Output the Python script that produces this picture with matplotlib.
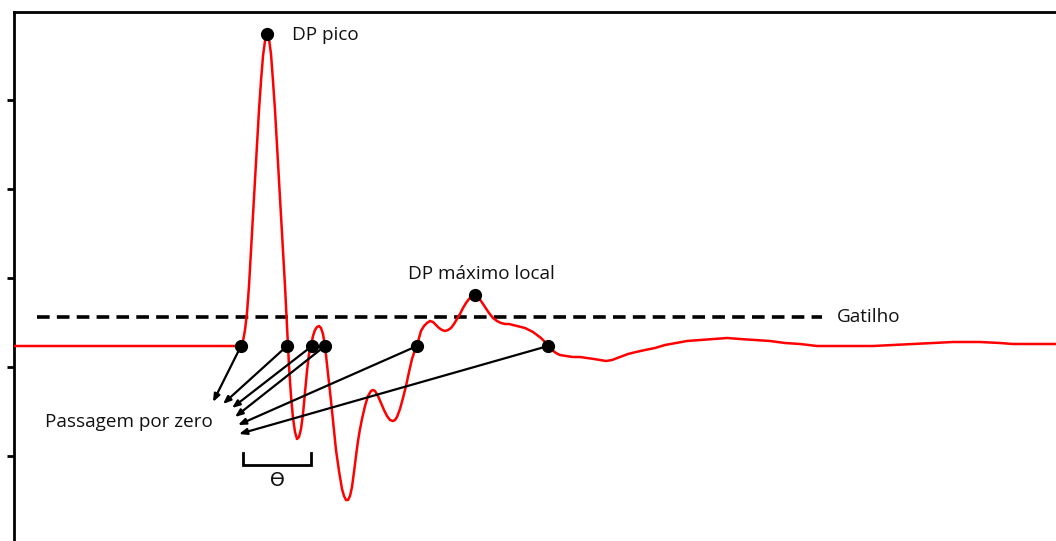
import matplotlib
matplotlib.use("Agg")
import matplotlib.pyplot as plt

plt.rcParams['font.family'] = ['Open Sans', 'DejaVu Sans']

# Signal (time in samples, amplitude in arbitrary units; 0 = baseline)
t = [14, 100, 200, 234, 238, 241, 243, 245, 247, 249, 251, 253, 255, 257, 259, 261,
     263, 265, 266, 267, 268, 269, 271, 273, 275, 277, 279, 281, 283, 285, 287, 289,
     291, 293, 295, 297, 299, 301, 303, 305, 307, 309, 311, 313, 315, 317, 319, 321,
     323, 325, 327, 329, 331, 333, 336, 339, 342, 344, 346, 348, 350, 352, 354, 356,
     358, 360, 362, 365, 368, 371, 373, 375, 378, 381, 384, 387, 390, 393, 395, 397,
     400, 403, 406, 409, 412, 415, 417, 419, 421, 424, 427, 430, 433, 436, 439, 442,
     445, 448, 451, 454, 457, 460, 463, 466, 469, 472, 475, 478, 481, 485, 489, 493,
     497, 501, 505, 509, 513, 517, 521, 525, 529, 533, 537, 541, 545, 548, 552, 556,
     560, 566, 573, 580, 587, 594, 600, 606, 612, 620, 628, 636, 645, 655, 665, 676,
     687, 700, 713, 727, 740, 755, 770, 785, 800, 817, 835, 855, 873, 893, 913, 933,
     953, 980, 1000, 1013, 1035, 1056]
amp = [0, 0, 0, 0, 0, 1, 5, 16, 33, 60, 96, 130, 166, 201, 236, 265,
       290, 305, 310, 312, 311, 307, 292, 265, 236, 201, 166, 130, 96, 60, 20, -20,
       -50, -72, -86, -93, -91, -83, -68, -47, -25, -8, 0, 10, 16, 19, 20, 18,
       12, 0, -18, -36, -55, -75, -104, -125, -143, -150, -154, -154, -150, -141, -126, -110,
       -95, -83, -73, -60, -50, -45, -44, -45, -50, -57, -64, -70, -74, -75, -74, -71,
       -63, -52, -40, -26, -13, -4, 0, 8, 15, 20, 23, 25, 24, 21, 18, 16,
       15, 16, 18, 22, 27, 32, 38, 43, 47, 50, 51, 49, 45, 39, 33, 28,
       25, 23, 22, 22, 21, 20, 19, 18, 16, 14, 11, 8, 4, 0, -4, -7,
       -9, -10, -11, -11, -12, -13, -14, -15, -14, -11, -8, -6, -4, -2, 1, 3,
       5, 6, 7, 8, 7, 6, 5, 3, 2, 0, 0, 0, 0, 1, 2, 3,
       4, 4, 3, 2, 2, 2]

# Marked points
peak_t, peak_a = 267, 312
local_t, local_a = 475, 51
zero_t = [241, 287, 312, 325, 417, 548]
arrow_tip_t = [213, 223, 232, 235, 238, 239]
arrow_tip_a = [-56, -58, -62, -71, -79, -88]

# Trigger level
trig_a = 29
trig_t0, trig_t1 = 37, 822

# Theta bracket
theta_t0, theta_t1 = 243, 311
theta_top, theta_bot = -107, -119

ytick_pos = [246, 157, 68, -21, -110]

fig = plt.figure(figsize=(10.56, 5.41), dpi=100)
ax = fig.add_axes([14 / 1056, 0.0, 1 - 14 / 1056, 1 - 12 / 541])
ax.set_xlim(14, 1056)
ax.set_ylim(-195, 334)

ax.plot(t, amp, color='#ff0000', lw=1.8, zorder=3, solid_joinstyle='round')

ax.plot([trig_t0, trig_t1], [trig_a, trig_a], color='black', lw=2.6,
        dashes=(3.5, 2.0), zorder=2)

for zt, tt, ta in zip(zero_t, arrow_tip_t, arrow_tip_a):
    ax.annotate('', xy=(tt, ta), xytext=(zt, 0),
                arrowprops=dict(arrowstyle='-|>,head_length=0.45,head_width=0.18',
                                color='black', lw=1.6, shrinkA=0, shrinkB=0),
                zorder=4)

ax.plot(zero_t, [0] * len(zero_t), 'o', color='black', ms=8.5, zorder=5)
ax.plot([peak_t, local_t], [peak_a, local_a], 'o', color='black', ms=8.5, zorder=5)

ax.plot([theta_t0, theta_t0, theta_t1, theta_t1],
        [theta_top, theta_bot, theta_bot, theta_top], color='black', lw=2.0,
        solid_joinstyle='miter', zorder=3)

fs = 13.6
ax.text(292, 311, 'DP pico', fontsize=fs, va='center', ha='left', color='#111111')
ax.text(481, 72, 'DP máximo local', fontsize=fs, va='center', ha='center', color='#111111')
ax.text(837, trig_a, 'Gatilho', fontsize=fs, va='center', ha='left', color='#111111')
ax.text(45, -76, 'Passagem por zero', fontsize=fs, va='center', ha='left', color='#111111')
ax.text(277, -135, 'ϴ', fontsize=fs, va='center', ha='center', color='#111111')

for s in ['right', 'bottom']:
    ax.spines[s].set_visible(False)
for s in ['left', 'top']:
    ax.spines[s].set_linewidth(2.0)
ax.set_xticks([])
ax.set_yticks(ytick_pos)
ax.set_yticklabels([])
ax.tick_params(axis='y', direction='out', length=5, width=2.0)

fig.savefig('out.png', dpi=100)
